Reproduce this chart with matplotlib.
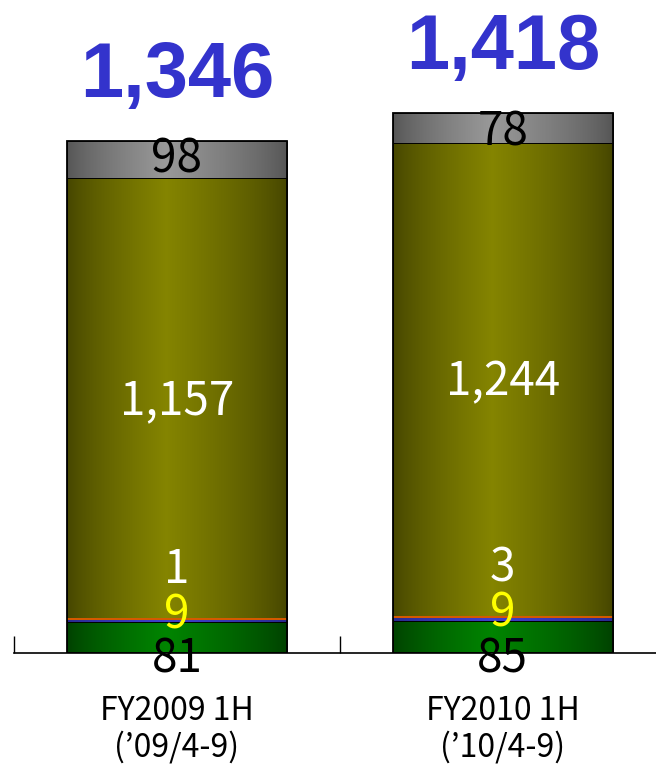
#libraries
import numpy as np
import matplotlib.pyplot as plt
from matplotlib.patches import Rectangle

# data
periods = ['FY2009 1H', 'FY2010 1H']
spans = ['(\u201909/4-9)', '(\u201910/4-9)']
totals = ['1,346', '1,418']
green_vals = [81, 85]
blue_vals = [9, 9]
orange_vals = [1, 3]
olive_vals = [1157, 1244]
gray_vals = [98, 78]

series = [green_vals, blue_vals, orange_vals, olive_vals, gray_vals]
dark = [(0, 0.25, 0), (0.16, 0.16, 0.55), (0.9, 0.35, 0), (0.27, 0.27, 0), (0.33, 0.33, 0.33)]
light = [(0, 0.52, 0), (0.25, 0.25, 0.8), (1.0, 0.42, 0), (0.52, 0.52, 0), (0.6, 0.6, 0.6)]

#
def gradient_bar(ax, x, bottom, height, width, c0, c1):
    '''horizontal cylinder-like gradient clipped to a rectangle'''
    t = np.linspace(0, 1, 256)
    w = np.where(t < 0.45, t / 0.45, (1 - t) / 0.55) ** 0.75
    c0, c1 = np.array(c0), np.array(c1)
    img = (c0[None, :] * (1 - w[:, None]) + c1[None, :] * w[:, None])[None, :, :]
    rect = Rectangle((x - width / 2, bottom), width, height, facecolor='none',
                     edgecolor='black', lw=0.6, zorder=3)
    ax.add_patch(rect)
    im = ax.imshow(img, extent=(x - width / 2, x + width / 2, bottom, bottom + height),
                   aspect='auto', zorder=2, interpolation='bilinear')
    im.set_clip_path(rect)
    # very thin segments still show as a coloured line
    if height < 5:
        ax.plot([x - width / 2, x + width / 2], [bottom + height / 2] * 2, color=c1,
                lw=1.2, zorder=3.5, solid_capstyle='butt')

fig = plt.figure(figsize=(6.56, 7.66), dpi=100)
ax = fig.add_axes([14 / 656, 113 / 766, 642 / 656, 653 / 766])
width = 0.675
for i in range(len(periods)):
    bottom = 0
    for vals, c0, c1 in zip(series, dark, light):
        gradient_bar(ax, i, bottom, vals[i], width, c0, c1)
        bottom += vals[i]
    # outer outline
    ax.add_patch(Rectangle((i - width / 2, 0), width, bottom, facecolor='none',
                           edgecolor='black', lw=1.3, zorder=4))

gothic = ['Noto Sans CJK JP', 'DejaVu Sans']
fs = 33
for i in range(len(periods)):
    g, b, o, ol, gr = (s[i] for s in series)
    top = g + b + o + ol + gr
    ax.text(i, -16, str(g), ha='center', va='center', fontsize=fs, family=gothic, color='black', zorder=5)
    ax.text(i, g + b / 2 + 14, str(b), ha='center', va='center', fontsize=fs, family=gothic,
            color='#ffff00', zorder=5)
    ax.text(i, g + b + 130, str(o), ha='center', va='center', fontsize=fs, family=gothic,
            color='white', zorder=5)
    ax.text(i, g + b + o + ol / 2 - 6, f'{ol:,}', ha='center', va='center', fontsize=fs,
            family=gothic, color='white', zorder=5)
    ax.text(i, top - gr / 2 - (0 if gr > 90 else 12), str(gr), ha='center', va='center',
            fontsize=fs, family=gothic, color='black', zorder=5)
    ax.text(i, top + 170, totals[i], ha='center', va='center', fontsize=56,
            family='Liberation Sans', weight='bold', color='#3333cc', zorder=5)
    ax.text(i, -153, periods[i], ha='center', va='center', fontsize=23, family=gothic,
            color='black')
    ax.text(i, -248, spans[i], ha='center', va='center', fontsize=23, family=gothic,
            color='black')

ax.set_xticks([-0.5, 0.5, 1.5])
ax.set_xticklabels([])
ax.set_xlim(-0.5, 1.47)
ax.set_ylim(0, 1717)
ax.tick_params(axis='x', direction='in', length=12, width=1)
ax.set_yticks([])
for s in ['top', 'right', 'left']:
    ax.spines[s].set_visible(False)
ax.spines['bottom'].set_linewidth(1.2)
ax.patch.set_alpha(0)

fig.savefig('out.png', dpi=100)
